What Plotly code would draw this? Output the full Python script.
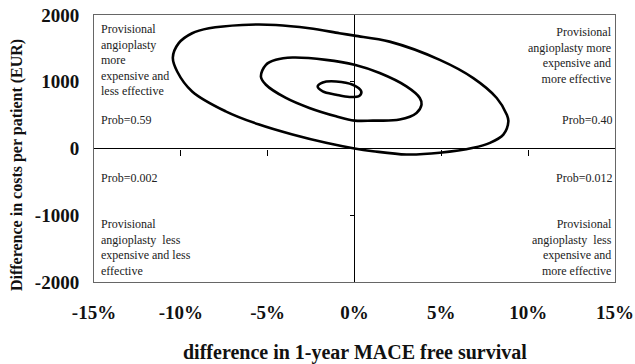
import plotly.graph_objects as go

# Quadrant x-axis ticks (difference in 1-year MACE free survival, %)
x_ticks = [-15, -10, -5, 0, 5, 10, 15]
x_tick_labels = ["-15%", "-10%", "-5%", "0%", "5%", "10%", "15%"]
y_ticks = [-2000, -1000, 0, 1000, 2000]
y_tick_labels = ["-2000", "-1000", "0", "1000", "2000"]
x_inner_ticks = [-10, -5, 5, 10]
y_inner_ticks = [-1000, 1000]

# Confidence contours (x in %, y in EUR)
outer_x = [-10.46, -10.12, -9.35, -8.38, -6.46, -4.53, -2.60, -0.87, 0.0, 2.02, 4.91, 6.84,
           8.19, 8.77, 8.86, 8.57, 7.80, 6.84, 4.91, 2.99, 1.06, 0.0, -1.64, -3.57, -5.49,
           -7.42, -9.35, -10.21, -10.46]
outer_y = [1363, 1578, 1727, 1801, 1851, 1851, 1801, 1727, 1691, 1601, 1328, 1055,
           757, 507, 407, 209, 85, 10, -64, -90, -40, 0, 85, 209, 358,
           557, 855, 1154, 1363]

middle_x = [-5.39, -5.10, -4.53, -3.57, -1.64, 0.0, 1.45, 2.99, 3.76, 3.86, 3.57, 2.60,
            1.06, 0.0, -1.06, -2.60, -3.95, -5.10, -5.39]
middle_y = [1079, 1254, 1328, 1363, 1328, 1254, 1130, 930, 757, 657, 533, 433,
            418, 418, 482, 607, 757, 955, 1079]

inner_x = [-2.12, -1.83, -1.06, -0.10, 0.39, 0.29, -0.29, -1.06, -1.83, -2.12]
inner_y = [930, 990, 1004, 955, 855, 791, 772, 806, 855, 930]

SERIF = "Liberation Serif, Times New Roman, serif"

fig = go.Figure()
for xs, ys in [(outer_x, outer_y), (middle_x, middle_y), (inner_x, inner_y)]:
    fig.add_trace(go.Scatter(x=xs, y=ys, mode="lines",
                             line=dict(color="black", width=2.6, shape="spline", smoothing=1.0),
                             showlegend=False, hoverinfo="skip"))

# helper trace for the tick axes through the origin
fig.add_trace(go.Scatter(x=[None], y=[None], xaxis="x2", yaxis="y2", showlegend=False))

txt = dict(family=SERIF, size=12, color="#222")
ann = [
    dict(x=-14.7, y=1930, xanchor="left", yanchor="top", align="left",
         text="Provisional<br>angioplasty<br>more<br>expensive and<br>less effective"),
    dict(x=-14.7, y=290, xanchor="left", yanchor="bottom", align="left", text="Prob=0.59"),
    dict(x=14.95, y=1880, xanchor="right", yanchor="top", align="right",
         text="Provisional<br>angioplasty more<br>expensive and<br>more effective"),
    dict(x=14.95, y=290, xanchor="right", yanchor="bottom", align="right", text="Prob=0.40"),
    dict(x=-14.7, y=-300, xanchor="left", yanchor="top", align="left", text="Prob=0.002"),
    dict(x=-14.7, y=-1970, xanchor="left", yanchor="bottom", align="left",
         text="Provisional<br>angioplasty  less<br>expensive and less<br>effective"),
    dict(x=14.95, y=-300, xanchor="right", yanchor="top", align="right", text="Prob=0.012"),
    dict(x=14.95, y=-1970, xanchor="right", yanchor="bottom", align="right",
         text="Provisional<br>angioplasty  less<br>expensive and<br>more effective"),
]
annotations = [dict(a, xref="x", yref="y", showarrow=False, font=txt) for a in ann]
annotations.append(dict(text="<b>difference in 1-year MACE free survival</b>", xref="paper", yref="paper",
                        x=0.5, y=0, yshift=-70, xanchor="center", yanchor="middle", showarrow=False,
                        font=dict(family=SERIF, size=20, color="#111")))
annotations.append(dict(text="<b>Difference in costs per patient (EUR)</b>", xref="paper", yref="paper",
                        x=0, xshift=-77, y=0.438, xanchor="center", yanchor="middle", textangle=-90,
                        showarrow=False, font=dict(family=SERIF, size=16, color="#111")))

tickfont = dict(family=SERIF, size=19, color="#111", weight="bold")
fig.update_layout(
    width=635, height=364,
    margin=dict(l=94, r=20, t=15, b=82, autoexpand=False),
    paper_bgcolor="white", plot_bgcolor="white",
    font=dict(family=SERIF, color="#111"),
    xaxis=dict(range=[-15, 15], tickvals=x_ticks, ticktext=x_tick_labels, automargin=False,
               tickfont=tickfont, showgrid=False,
               zeroline=True, zerolinecolor="black", zerolinewidth=1,
               showline=True, mirror=True, linecolor="#666", linewidth=1,
               ticks="", ticklabelstandoff=13, fixedrange=True),
    yaxis=dict(range=[-2000, 2000], tickvals=y_ticks, ticktext=y_tick_labels, automargin=False,
               tickfont=tickfont, showgrid=False,
               zeroline=True, zerolinecolor="black", zerolinewidth=1,
               showline=True, mirror=True, linecolor="#666", linewidth=1,
               ticks="", ticklabelstandoff=10, fixedrange=True),
    xaxis2=dict(overlaying="x", anchor="free", position=0.5, side="bottom", range=[-15, 15],
                tickvals=x_inner_ticks, ticks="outside", ticklen=6, tickcolor="black", tickwidth=1,
                showticklabels=False, showgrid=False, zeroline=False, showline=False, automargin=False),
    yaxis2=dict(overlaying="y", anchor="free", position=0.5, side="left", range=[-2000, 2000],
                tickvals=y_inner_ticks, ticks="outside", ticklen=5, tickcolor="black", tickwidth=1,
                showticklabels=False, showgrid=False, zeroline=False, showline=False, automargin=False),
    annotations=annotations,
)

fig.write_html("out.html", config={"displayModeBar": False},
               post_script="document.body.style.margin='0px';document.body.style.overflow='hidden';")
